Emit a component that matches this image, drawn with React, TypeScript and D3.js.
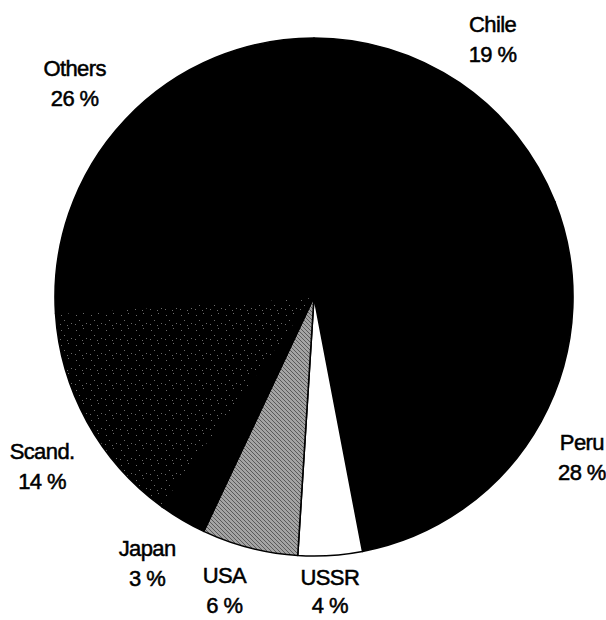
import React from "react";
import * as d3 from "d3";

const categories = ["Chile", "Peru", "USSR", "USA", "Japan", "Scand.", "Others"];
const shares = [19, 28, 4, 6, 3, 14, 26];
const shareLabels = ["19 %", "28 %", "4 %", "6 %", "3 %", "14 %", "26 %"];
const fills = ["#000", "#000", "#fff", "url(#usaPat)", "#000", "url(#scandPat)", "#000"];
// label nudges (px) relative to arc centroid at label radius
const labelNudges: [number, number][] = [
  [1, 4], [-9, 8], [-4, -20], [-11, -13], [-6, -5], [5, 17], [-9, 3],
];
const lineGaps = [30, 30, 28, 30, 30, 30, 30];

const W = 606, H = 620;
const cx = 314, cy = 297, R = 259, labelR = 316;

export default function App() {
  const pie = d3.pie<number>().sort(null).startAngle(0).endAngle(2 * Math.PI);
  const arcs = pie(shares);
  const arc = d3.arc<d3.PieArcDatum<number>>().innerRadius(0).outerRadius(R);
  const labelArc = d3.arc<d3.PieArcDatum<number>>().innerRadius(labelR).outerRadius(labelR);
  const dots: [number, number][] = [[2, 3], [9, 1], [5, 8], [12, 11], [1, 12], [8, 13]];
  const gdots: [number, number][] = [[0, 1], [2, 3], [3, 0], [1, 2]];
  return (
    <svg width={W} height={H} style={{ position: "absolute", left: 0, top: 0, background: "#fff" }}>
      <defs>
        <pattern id="usaPat" width={4} height={4} patternUnits="userSpaceOnUse">
          <rect width={4} height={4} fill="#a4a4a4" />
          {gdots.map((d, i) => (
            <rect key={i} x={d[0]} y={d[1]} width={1} height={1} fill="#5a5a5a" />
          ))}
        </pattern>
        <pattern id="scandPat" width={15} height={15} patternUnits="userSpaceOnUse">
          <rect width={15} height={15} fill="#000" />
          {dots.map((d, i) => (
            <rect key={i} x={d[0]} y={d[1]} width={1} height={1} fill="#6a6a6a" />
          ))}
        </pattern>
      </defs>
      <g transform={`translate(${cx},${cy})`}>
        {arcs.map((a, i) => (
          <path key={i} d={arc(a) || ""} fill={fills[i]} stroke="#000" strokeWidth={1.6} strokeLinejoin="round" />
        ))}
        {arcs.map((a, i) => {
          const [lx, ly] = labelArc.centroid(a);
          const x = lx + labelNudges[i][0];
          const y = ly + labelNudges[i][1];
          return (
            <g key={"l" + i} fontFamily="'Liberation Sans', Arial, sans-serif" fontSize={22} fill="#000" textAnchor="middle"
              stroke="#000" strokeWidth={0.5} letterSpacing={-0.6}>
              <text x={x} y={y - 7.5}>{categories[i]}</text>
              <text x={x} y={y - 7.5 + lineGaps[i]}>{shareLabels[i]}</text>
            </g>
          );
        })}
      </g>
    </svg>
  );
}
